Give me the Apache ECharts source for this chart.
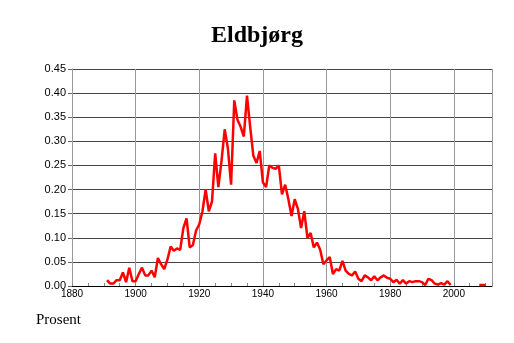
<!DOCTYPE html>
<html><head><meta charset="utf-8">
<script src="https://cdn.jsdelivr.net/npm/echarts@6/dist/echarts.min.js"></script>
<style>html,body{margin:0;padding:0;background:#fff}#c{width:514px;height:343px}</style>
</head><body><div id="c"></div>
<script>
const title = "Eldbjørg";
const yLabel = "Prosent";
const years1 = [];
for (let y = 1891; y <= 1999; y++) years1.push(y);
const values1 = [
0.012,0.005,0.005,0.012,0.012,0.028,0.008,0.038,0.010,0.010,
0.025,0.038,0.022,0.022,0.032,0.018,0.058,0.045,0.035,0.055,
0.082,0.073,0.078,0.075,0.120,0.140,0.080,0.085,0.115,0.128,
0.155,0.200,0.155,0.175,0.275,0.205,0.260,0.325,0.285,0.210,
0.385,0.345,0.330,0.310,0.395,0.330,0.270,0.255,0.280,0.215,
0.205,0.250,0.245,0.243,0.250,0.190,0.210,0.180,0.145,0.180,
0.160,0.120,0.155,0.100,0.110,0.080,0.090,0.075,0.045,0.053,
0.060,0.025,0.035,0.032,0.052,0.032,0.025,0.022,0.030,0.015,
0.010,0.022,0.018,0.012,0.020,0.012,0.018,0.022,0.017,0.015,
0.008,0.013,0.005,0.012,0.005,0.010,0.008,0.010,0.010,0.008,
0.002,0.015,0.012,0.005,0.003,0.006,0.003,0.010,0.002
];
const years2 = [2008, 2009, 2010];
const values2 = [0.002, 0.002, 0.002];
const xTicks = [1880, 1900, 1920, 1940, 1960, 1980, 2000];

const data = years1.map((y, i) => [y, values1[i]]);
for (let y = 2000; y < 2008; y++) data.push([y, null]);
years2.forEach((y, i) => data.push([y, values2[i]]));

const chart = echarts.init(document.getElementById('c'));
chart.setOption({
  animation: false,
  title: [{text: title, left: 'center', top: 19,
    textStyle: {fontFamily: 'Liberation Serif', fontWeight: 'bold', fontSize: 24, color: '#000'}},
    {text: yLabel, left: 31, top: 308,
    textStyle: {fontFamily: 'Liberation Serif', fontWeight: 'normal', fontSize: 15, color: '#000'}}],
  grid: {left: 72, right: 22, top: 69, bottom: 57},
  xAxis: {type: 'value', min: 1880, max: 2012, interval: 20,
    axisLine: {show: true, lineStyle: {color: '#000', width: 1}},
    axisTick: {show: true, inside: true, length: 3, lineStyle: {color: '#888'}},
    minorTick: {show: true, splitNumber: 4, length: 3, lineStyle: {color: '#888'}},
    axisLabel: {fontFamily: 'Liberation Sans', fontSize: 10, color: '#000', margin: 3,
      formatter: v => xTicks.includes(v) ? String(v) : ''},
    splitLine: {show: true, lineStyle: {color: '#999', width: 1}}},
  yAxis: {type: 'value', min: 0, max: 0.45, interval: 0.05,
    axisLine: {show: true, lineStyle: {color: '#999', width: 1}},
    axisTick: {show: true, inside: false, length: 4, lineStyle: {color: '#666'}},
    axisLabel: {fontFamily: 'Liberation Sans', fontSize: 11, color: '#000', margin: 6,
      formatter: v => v.toFixed(2)},
    splitLine: {show: true, lineStyle: {color: '#444', width: 1}}},
  series: [{type: 'line', data: data, showSymbol: false, connectNulls: false,
    lineStyle: {color: '#ff0000', width: 2.5}, itemStyle: {color: '#ff0000'}}]
});
</script></body></html>
